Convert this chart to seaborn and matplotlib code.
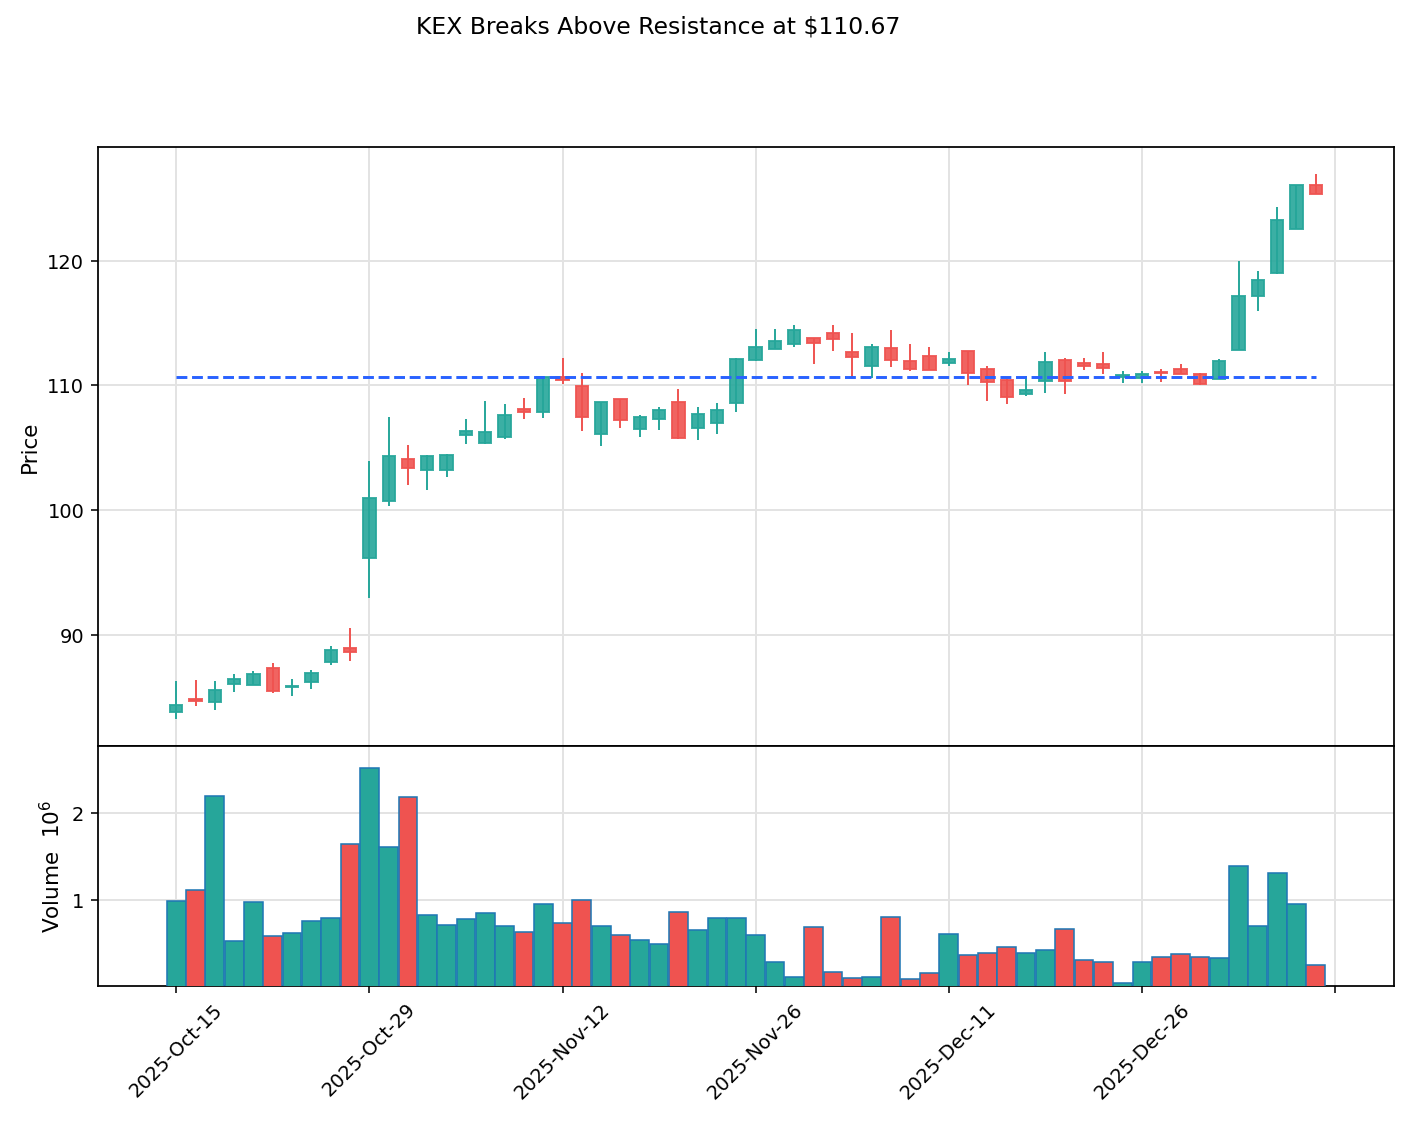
import numpy as np
import pandas as pd
import matplotlib
matplotlib.use("Agg")
import matplotlib.pyplot as plt
import matplotlib.ticker as mticker
import seaborn as sns

# ---------------- data ----------------
ticker = "KEX"
resistance = 110.67
dates = pd.bdate_range("2025-10-15", "2026-01-09", freq="C",
                       holidays=["2025-11-27", "2025-12-25", "2026-01-01"])

opens = [83.84, 84.88, 84.60, 86.08, 85.98, 87.34, 85.80, 86.22, 87.82, 89.00,
         96.14, 100.78, 104.14, 103.26, 103.26, 106.06, 105.36, 105.90, 108.08, 107.90,
         110.70, 109.98, 106.08, 108.94, 106.48, 107.28, 108.70, 106.62, 107.02, 108.56,
         112.06, 112.94, 113.34, 113.82, 114.22, 112.70, 111.58, 113.02, 111.98, 112.38,
         111.82, 112.78, 111.34, 110.46, 109.34, 110.38, 112.06, 111.82, 111.74, 110.66,
         110.62, 111.12, 111.34, 110.90, 110.56, 112.86, 117.20, 118.98, 122.56, 126.06]
highs = [86.30, 86.40, 86.30, 86.88, 87.12, 87.78, 86.48, 87.20, 89.12, 90.56,
         103.94, 107.44, 105.20, 104.40, 104.50, 107.28, 108.72, 108.48, 108.96, 110.72,
         112.24, 111.04, 108.70, 108.94, 107.66, 108.24, 109.68, 108.24, 108.56, 112.24,
         114.56, 114.56, 114.82, 113.82, 114.88, 114.24, 113.34, 114.48, 113.36, 113.12,
         112.70, 112.78, 111.58, 110.50, 110.78, 112.72, 112.24, 112.24, 112.72, 111.18,
         111.18, 111.34, 111.76, 111.00, 112.14, 120.00, 119.20, 124.32, 126.06, 126.96]
lows = [83.30, 84.34, 84.00, 85.46, 85.98, 85.36, 85.14, 85.70, 87.62, 87.94,
        92.94, 100.34, 102.02, 101.62, 102.66, 105.28, 105.30, 105.70, 107.28, 107.36,
        110.14, 106.34, 105.14, 106.58, 105.86, 106.42, 105.74, 105.62, 106.10, 107.90,
        112.00, 112.94, 113.06, 111.70, 112.74, 110.66, 110.62, 111.46, 111.14, 111.26,
        111.54, 110.02, 108.74, 108.50, 109.14, 109.38, 109.30, 111.26, 110.94, 110.18,
        110.18, 110.26, 110.94, 110.02, 110.50, 112.86, 115.94, 118.90, 122.56, 125.36]
closes = [84.40, 84.70, 85.58, 86.46, 86.86, 85.50, 85.92, 86.96, 88.78, 88.62,
          101.02, 104.38, 103.42, 104.38, 104.46, 106.32, 106.30, 107.66, 107.86, 110.70,
          110.46, 107.50, 108.70, 107.26, 107.50, 108.00, 105.82, 107.74, 108.06, 112.14,
          113.10, 113.58, 114.46, 113.42, 113.74, 112.30, 113.10, 112.06, 111.34, 111.26,
          112.14, 111.02, 110.30, 109.10, 109.66, 111.90, 110.38, 111.58, 111.42, 110.86,
          110.94, 111.00, 110.94, 110.14, 111.94, 117.14, 118.42, 123.30, 126.06, 125.36]
volumes_m = [0.993, 1.120, 2.198, 0.533, 0.981, 0.587, 0.622, 0.761, 0.796, 1.642,
             2.520, 1.607, 2.186, 0.831, 0.715, 0.784, 0.854, 0.703, 0.634, 0.958,
             0.738, 1.005, 0.703, 0.599, 0.541, 0.495, 0.866, 0.657, 0.796, 0.796,
             0.599, 0.286, 0.112, 0.692, 0.170, 0.108, 0.112, 0.808, 0.089, 0.159,
             0.610, 0.367, 0.390, 0.456, 0.390, 0.425, 0.668, 0.309, 0.286, 0.043,
             0.286, 0.344, 0.379, 0.344, 0.333, 1.387, 0.703, 1.306, 0.958, 0.251]

UP = "#26a69a"
DOWN = "#ef5350"

df = pd.DataFrame({"date": dates[:len(opens)], "open": opens, "high": highs,
                   "low": lows, "close": closes, "volume": volumes_m})
df["idx"] = np.arange(len(df))
df["dir"] = np.where(df["close"] >= df["open"], "up", "down")
colors = [UP if d == "up" else DOWN for d in df["dir"]]

# ---------------- style ----------------
sns.set_style("ticks", {"axes.edgecolor": "black", "xtick.color": "black",
                        "ytick.color": "black", "text.color": "black",
                        "axes.labelcolor": "black", "axes.grid": True,
                        "grid.color": "#e3e3e3"})
plt.rcParams["font.family"] = ["DejaVu Sans"]
plt.rcParams["font.size"] = 10
plt.rcParams["axes.linewidth"] = 0.9

fig = plt.figure(figsize=(10, 8), dpi=140.8)
W, H = 1408, 1126
ax = fig.add_axes([98 / W, 1 - 746 / H, (1394 - 98) / W, (746 - 147) / H])
axv = fig.add_axes([98 / W, 1 - 986 / H, (1394 - 98) / W, (986 - 746) / H], sharex=ax)

# ---------------- candles ----------------
body_lo = np.minimum(df["open"], df["close"])
body_h = np.abs(df["close"] - df["open"])
ax.vlines(df["idx"], df["low"], df["high"], colors=colors, linewidth=1.0, zorder=2)
ax.bar(df["idx"], body_h, bottom=body_lo, width=0.64, color=colors, alpha=0.9,
       edgecolor=colors, linewidth=1.0, zorder=3)
ax.hlines(resistance, df["idx"].iloc[0], df["idx"].iloc[-1], colors="#2962ff",
          linestyles="--", linewidth=1.5, zorder=4)

rng = df["high"].max() - df["low"].min()
ax.set_ylim(df["low"].min() - 0.05 * rng, df["high"].max() + 0.05 * rng)
ax.set_yticks([90, 100, 110, 120])
ax.set_ylabel("Price", fontsize=11)
ax.grid(True, color="#e3e3e3", linewidth=1.0)
ax.tick_params(axis="x", bottom=False, labelbottom=False)

# ---------------- volume ----------------
sns.barplot(data=df, x="idx", y="volume", hue="dir", palette={"up": UP, "down": DOWN},
            native_scale=True, dodge=False, width=0.97, edgecolor="#1f77b4",
            linewidth=0.8, errorbar=None, legend=False, ax=axv, zorder=3, saturation=1)
axv.set_ylim(0.3 * df["volume"].min(), 1.1 * df["volume"].max())
axv.set_yticks([1, 2])
axv.set_ylabel(r"Volume  $10^{6}$", fontsize=11)
axv.set_xlabel("")
axv.grid(True, color="#e3e3e3", linewidth=1.0)

tick_pos = list(range(0, 61, 10))
labels = [df["date"].iloc[i].strftime("%Y-%b-%d") if i < len(df) else "" for i in tick_pos]
axv.xaxis.set_major_locator(mticker.FixedLocator(tick_pos))
axv.xaxis.set_major_formatter(mticker.FixedFormatter(labels))
for lab in axv.get_xticklabels():
    lab.set_rotation(45)
    lab.set_ha("center")
axv.set_xlim(-4.05, 63.05)

for a in (ax, axv):
    for s in a.spines.values():
        s.set_visible(True)
        s.set_color("black")

fig.text(658.5 / W, 1 - 27 / H, f"{ticker} Breaks Above Resistance at ${resistance:.2f}",
         ha="center", va="center", fontsize=12)

fig.savefig("out.png", dpi=140.8)
